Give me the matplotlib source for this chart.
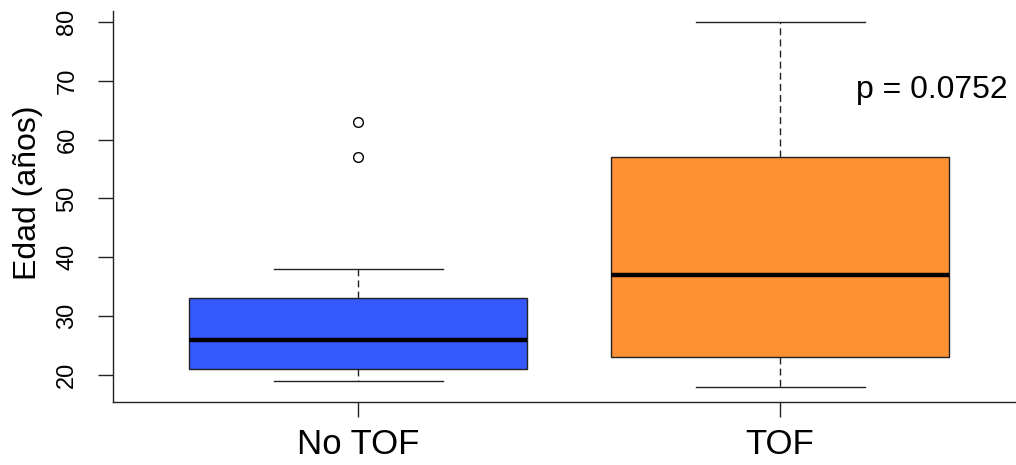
import matplotlib
matplotlib.use("Agg")
import matplotlib.pyplot as plt

plt.rcParams['font.family'] = ['Liberation Sans', 'DejaVu Sans']

# Box statistics per group (años)
groups = ["No TOF", "TOF"]
whisker_low = [19, 18]
q1 = [21, 23]
median = [26, 37]
q3 = [33, 57]
whisker_high = [38, 80]
outliers = [[57, 63], []]
colors = ["#3559FF", "#FF9135"]
p_label = "p = 0.0752"
y_ticks = [20, 30, 40, 50, 60, 70, 80]

stats = []
for i, g in enumerate(groups):
    stats.append(dict(label=g, whislo=whisker_low[i], q1=q1[i], med=median[i],
                      q3=q3[i], whishi=whisker_high[i], fliers=outliers[i]))

fig = plt.figure(figsize=(10.16, 4.65), dpi=100)
ax = fig.add_axes([113 / 1016, 1 - 402 / 465, (1016 - 113) / 1016, (402 - 11) / 465])

bp = ax.bxp(stats, positions=[1, 2], widths=0.8, patch_artist=True,
            showfliers=True,
            boxprops=dict(linewidth=1.0, edgecolor="#222222"),
            medianprops=dict(color="black", linewidth=3.2, solid_capstyle="butt"),
            whiskerprops=dict(color="#222222", linewidth=1.0, linestyle=(0, (5, 3))),
            capprops=dict(color="#222222", linewidth=1.0),
            flierprops=dict(marker="o", markerfacecolor="white", markeredgecolor="black",
                            markersize=7, markeredgewidth=1.0))
for cap in bp["caps"]:
    x0, x1 = cap.get_xdata()
    c = (x0 + x1) / 2
    cap.set_xdata([c - 0.2, c + 0.2])
for patch, col in zip(bp["boxes"], colors):
    patch.set_facecolor(col)

ax.set_xlim(0.419, 2.559)
ax.set_ylim(15.4, 81.87)

ax.spines["top"].set_visible(False)
ax.spines["right"].set_visible(False)
for s in ("left", "bottom"):
    ax.spines[s].set_color("#222222")
    ax.spines[s].set_linewidth(1.0)

ax.set_yticks(y_ticks)
ax.set_yticklabels([str(t) for t in y_ticks], rotation=90, va="center", fontsize=17)
ax.set_xticks([1, 2])
ax.set_xticklabels(groups, fontsize=25)
ax.tick_params(axis="y", length=11, width=1.0, color="#222222", pad=14)
ax.tick_params(axis="x", length=11, width=1.0, color="#222222", pad=8)

fig.text(28 / 1016, 1 - 193 / 465, "Edad (años)", rotation=90, fontsize=23,
         ha="center", va="center")

ax.text(2.36, 68.4, p_label, fontsize=23, ha="center", va="center")

fig.savefig("out.png", dpi=100, facecolor="white")
